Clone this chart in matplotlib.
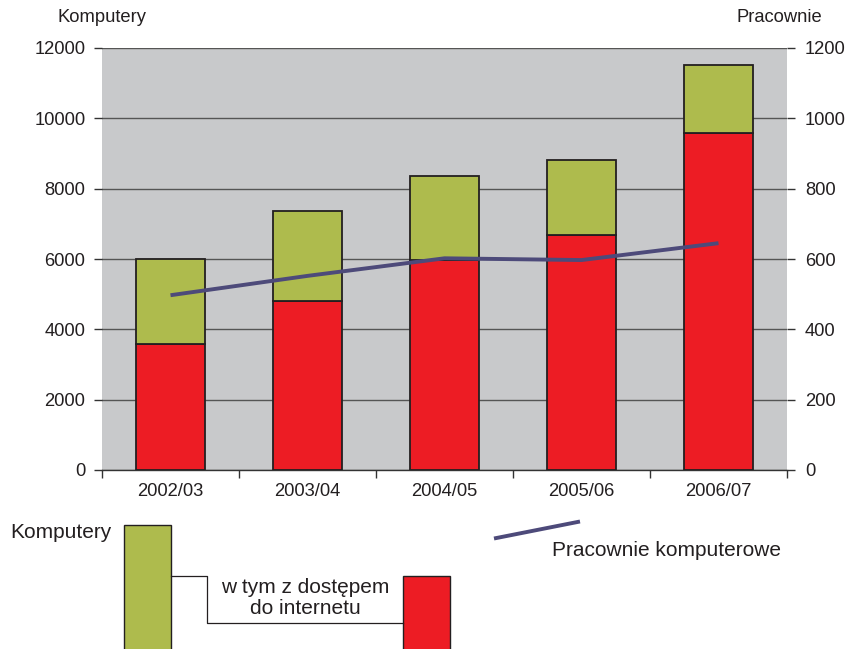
import matplotlib
matplotlib.use("Agg")
import matplotlib.pyplot as plt
from matplotlib.patches import Rectangle
from matplotlib.lines import Line2D

plt.rcParams['font.family'] = ['Liberation Sans', 'DejaVu Sans']

categories = ["2002/03", "2003/04", "2004/05", "2005/06", "2006/07"]
komputery = [6000, 7370, 8360, 8820, 11520]
z_internetem = [3580, 4800, 5970, 6680, 9580]
pracownie = [497, 552, 602, 597, 645]

GREEN = "#AEBB4D"
RED = "#ED1C24"
GRAY = "#C8C9CB"
PURPLE = "#4D4A7A"
EDGE = "#231F20"
FS = 13.2
LFS = 15

W, H = 847, 649
fig = plt.figure(figsize=(W / 100, H / 100), dpi=100)
ax = fig.add_axes([102 / W, 1 - 470 / H, 685 / W, 422 / H])
ax.set_facecolor(GRAY)
for s in ax.spines.values():
    s.set_visible(False)
ax.spines['bottom'].set_visible(True)
ax.spines['bottom'].set_color("#333333")
ax.spines['bottom'].set_linewidth(1.0)

x = list(range(len(categories)))
green_part = [t - r for t, r in zip(komputery, z_internetem)]
ax.bar(x, z_internetem, width=0.5, color=RED, edgecolor=EDGE, linewidth=1.3, zorder=3)
ax.bar(x, green_part, bottom=z_internetem, width=0.5, color=GREEN, edgecolor=EDGE, linewidth=1.3, zorder=3)

ax.set_xlim(-0.5, len(categories) - 0.5)
ax.set_ylim(0, 12000)
ax.set_yticks(range(0, 12001, 2000))
ax.yaxis.grid(True, color="#555555", linewidth=1.0, zorder=1)
ax.set_axisbelow(True)
ax.tick_params(axis='y', length=6, width=1.0, color="#333333", pad=6, labelsize=FS, labelcolor="#231F20")
ax.set_xticks([i - 0.5 for i in range(len(categories) + 1)])
ax.set_xticklabels([])
ax.set_xticks(x, minor=True)
ax.set_xticklabels(categories, minor=True)
ax.tick_params(axis='x', which='major', length=6, width=1.0, color="#333333")
ax.tick_params(axis='x', which='minor', length=0, pad=9, labelsize=FS, labelcolor="#231F20")

ax2 = ax.twinx()
for s in ax2.spines.values():
    s.set_visible(False)
ax2.set_ylim(0, 1200)
ax2.set_yticks(range(0, 1201, 200))
ax2.tick_params(axis='y', length=6, width=1.0, color="#333333", pad=7, labelsize=FS, labelcolor="#231F20")
ax2.plot(x, pracownie, color=PURPLE, linewidth=2.8, zorder=5, solid_capstyle='butt')

# axis titles
fig.text(57 / W, 1 - 17 / H, "Komputery", ha='left', va='center', fontsize=FS, color="#231F20")
fig.text(822 / W, 1 - 17 / H, "Pracownie", ha='right', va='center', fontsize=FS, color="#231F20")

# custom legend
lg = fig.add_axes([0, 0, 1, 1], zorder=10)
lg.set_xlim(0, W)
lg.set_ylim(H, 0)
lg.axis('off')
lg.patch.set_visible(False)
lg.add_patch(Rectangle((124, 525), 47, 130, facecolor=GREEN, edgecolor=EDGE, linewidth=1.0, clip_on=False))
lg.add_patch(Rectangle((403, 576), 47, 80, facecolor=RED, edgecolor=EDGE, linewidth=1.0, clip_on=False))
lg.add_line(Line2D([171, 207, 207, 403], [576, 576, 623, 623], color=EDGE, linewidth=0.9))
lg.text(111, 532, "Komputery", ha='right', va='center', fontsize=LFS, color="#231F20")
lg.text(305, 598, "w tym z dostępem\ndo internetu", ha='center', va='center', fontsize=LFS,
        color="#231F20", linespacing=1.1)
lg.add_line(Line2D([494, 580], [538.5, 521.5], color=PURPLE, linewidth=2.8, solid_capstyle='butt'))
lg.text(552, 550, "Pracownie komputerowe", ha='left', va='center', fontsize=LFS, color="#231F20")

fig.savefig("out.png", dpi=100, facecolor="white")
